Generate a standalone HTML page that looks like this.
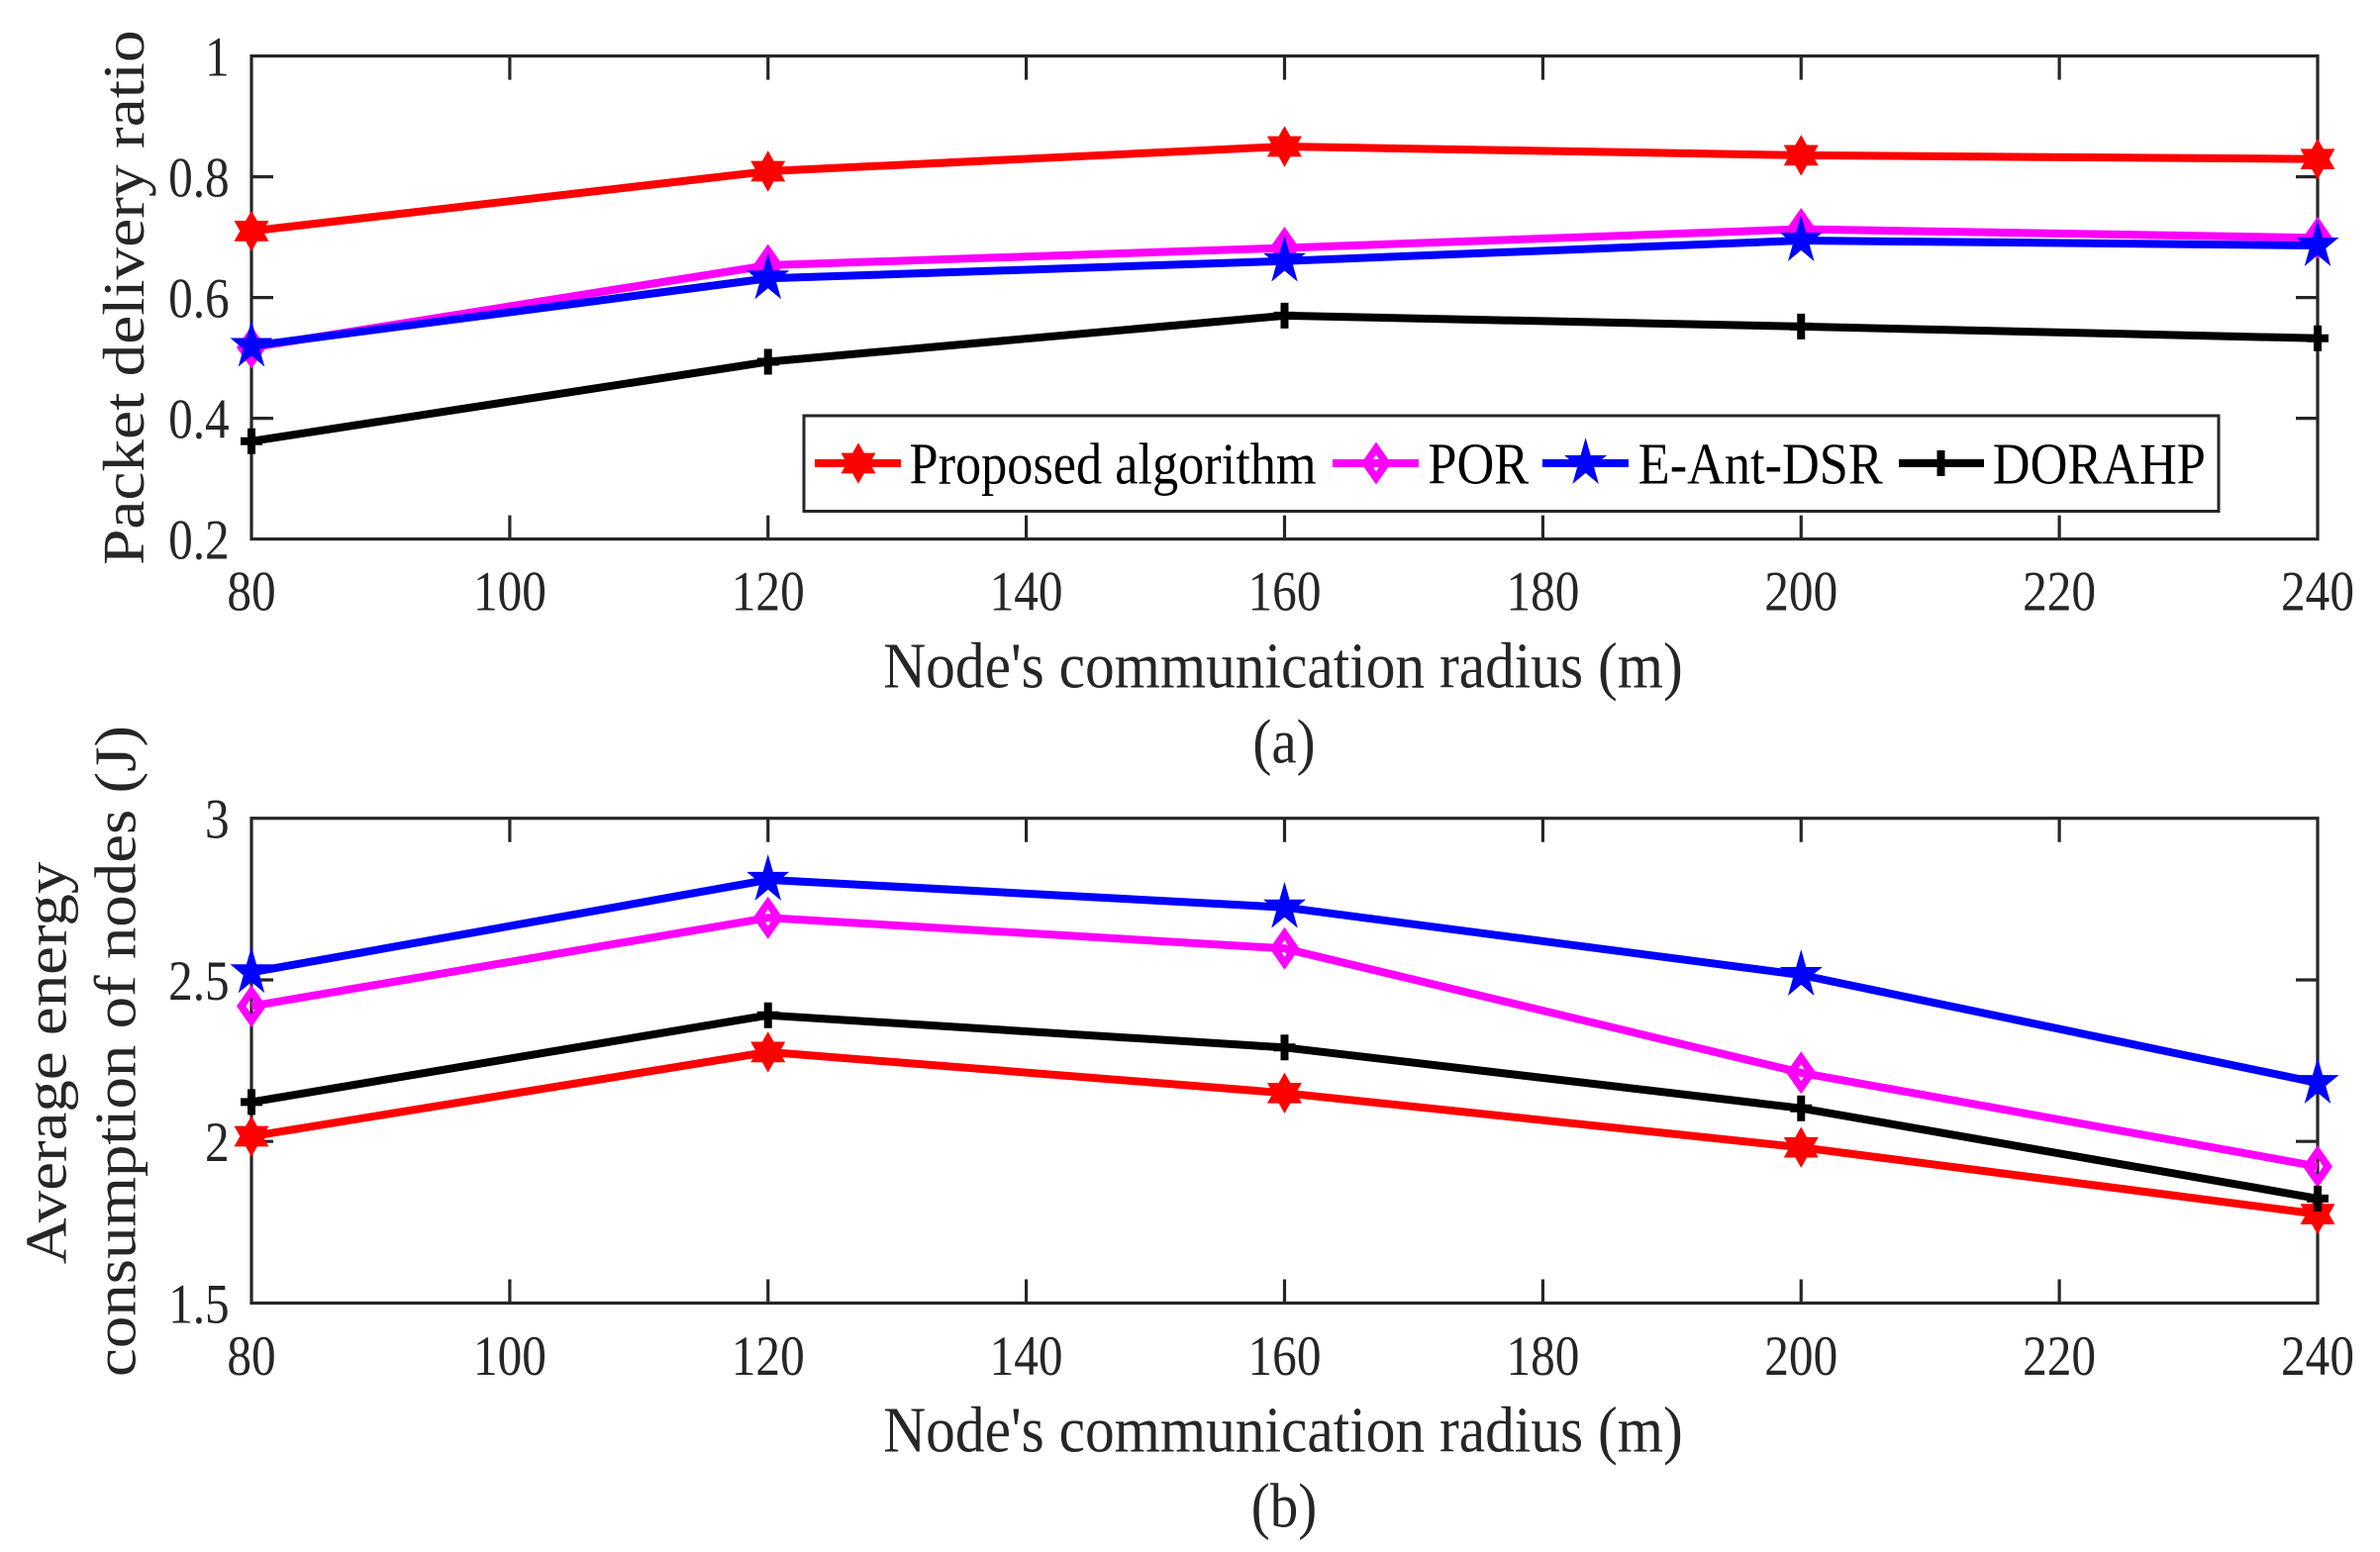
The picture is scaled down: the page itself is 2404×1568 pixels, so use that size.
<!DOCTYPE html>
<html>
<head>
<meta charset="utf-8">
<style>
html,body{margin:0;padding:0;background:#fff;}
svg{display:block;}
text{font-family:"Liberation Serif","Times New Roman",serif;fill:#262626;}
</style>
</head>
<body>
<svg width="2404" height="1568" viewBox="0 0 2404 1568" xmlns="http://www.w3.org/2000/svg">
<defs>
  <polygon id="hex" points="0,-20.7 5.83,-10.35 17.49,-10.35 11.66,0 17.49,10.35 5.83,10.35 0,20.7 -5.83,10.35 -17.49,10.35 -11.66,0 -17.49,-10.35 -5.83,-10.35" fill="#ff0000"/>
  <polygon id="pent" points="0,-25.9 5.07,-8 21.49,-8 8.21,3.06 13.28,20.95 0,9.89 -13.28,20.95 -8.21,3.06 -21.49,-8 -5.07,-8" fill="#0000ff"/>
  <path id="dia" d="M0,-21.5 L15,0 L0,21.5 L-15,0 Z M0,-8.5 L-5.5,0 L0,8.5 L5.5,0 Z" fill="#ff00ff" fill-rule="evenodd"/>
  <path id="plus" d="M-11,0 H11 M0,-13 V13" stroke="#000" stroke-width="8" fill="none"/>
</defs>

<!-- ================= TOP PLOT ================= -->
<g stroke="#262626" stroke-width="3.2" fill="none">
  <rect x="254" y="56.6" width="2087" height="488"/>
  <path d="M514.9,544.6v-24 M775.75,544.6v-24 M1036.6,544.6v-24 M1297.5,544.6v-24 M1558.4,544.6v-24 M1819.25,544.6v-24 M2080.1,544.6v-24
           M514.9,56.6v24 M775.75,56.6v24 M1036.6,56.6v24 M1297.5,56.6v24 M1558.4,56.6v24 M1819.25,56.6v24 M2080.1,56.6v24
           M254,178.6h22 M254,300.6h22 M254,422.6h22
           M2341,178.6h-22 M2341,300.6h-22 M2341,422.6h-22"/>
</g>

<!-- x tick labels top -->
<g font-size="49.3" text-anchor="middle">
  <text transform="translate(254,616.7) scale(1,1.15)">80</text>
  <text transform="translate(514.9,616.7) scale(1,1.15)">100</text>
  <text transform="translate(775.75,616.7) scale(1,1.15)">120</text>
  <text transform="translate(1036.6,616.7) scale(1,1.15)">140</text>
  <text transform="translate(1297.5,616.7) scale(1,1.15)">160</text>
  <text transform="translate(1558.4,616.7) scale(1,1.15)">180</text>
  <text transform="translate(1819.25,616.7) scale(1,1.15)">200</text>
  <text transform="translate(2080.1,616.7) scale(1,1.15)">220</text>
  <text transform="translate(2341,616.7) scale(1,1.15)">240</text>
</g>
<!-- y tick labels top -->
<g font-size="49.3" text-anchor="end">
  <text transform="translate(231.7,76.4) scale(1,1.15)">1</text>
  <text transform="translate(231.7,198.4) scale(1,1.15)">0.8</text>
  <text transform="translate(231.7,320.4) scale(1,1.15)">0.6</text>
  <text transform="translate(231.7,442.4) scale(1,1.15)">0.4</text>
  <text transform="translate(231.7,564.4) scale(1,1.15)">0.2</text>
</g>

<text font-size="59.4" text-anchor="middle" transform="translate(145,300.6) scale(1,1.1) rotate(-90)">Packet delivery ratio</text>
<text font-size="59.4" text-anchor="middle" transform="translate(1296,694.6) scale(1,1.11)">Node&#39;s communication radius (m)</text>
<text font-size="57" text-anchor="middle" transform="translate(1297,770.7) scale(1,1.11)">(a)</text>

<!-- series top -->
<g fill="none" stroke-width="8" stroke-linejoin="round">
  <polyline stroke="#ff0000" points="254,233.4 775.75,173 1297.5,148 1819.25,156.9 2341,160.7"/>
</g>
<use href="#hex" x="254" y="233.4"/><use href="#hex" x="775.75" y="173"/><use href="#hex" x="1297.5" y="148"/><use href="#hex" x="1819.25" y="156.9"/><use href="#hex" x="2341" y="160.7"/>
<polyline fill="none" stroke-width="8" stroke-linejoin="round" stroke="#ff00ff" points="254,351 775.75,268 1297.5,250.5 1819.25,231.5 2341,240.3"/>
<use href="#dia" x="254" y="351"/><use href="#dia" x="775.75" y="268"/><use href="#dia" x="1297.5" y="250.5"/><use href="#dia" x="1819.25" y="231.5"/><use href="#dia" x="2341" y="240.3"/>
<polyline fill="none" stroke-width="8" stroke-linejoin="round" stroke="#0000ff" points="254,349.5 775.75,281.3 1297.5,263.7 1819.25,243 2341,248"/>
<use href="#pent" x="254" y="349.5"/><use href="#pent" x="775.75" y="281.3"/><use href="#pent" x="1297.5" y="263.7"/><use href="#pent" x="1819.25" y="243"/><use href="#pent" x="2341" y="248"/>
<polyline fill="none" stroke-width="8" stroke-linejoin="round" stroke="#000000" points="254,445.8 775.75,365.5 1297.5,318.9 1819.25,329.9 2341,341.8"/>
<use href="#plus" x="254" y="445.8"/><use href="#plus" x="775.75" y="365.5"/><use href="#plus" x="1297.5" y="318.9"/><use href="#plus" x="1819.25" y="329.9"/><use href="#plus" x="2341" y="341.8"/>

<!-- legend -->
<rect x="812" y="420" width="1429" height="96.5" fill="#fff" stroke="#262626" stroke-width="3"/>
<g stroke-width="8" fill="none">
  <path d="M823,468H910" stroke="#ff0000"/>
  <path d="M1346,468H1433" stroke="#ff00ff"/>
  <path d="M1558,468H1645" stroke="#0000ff"/>
  <path d="M1918,468H2004" stroke="#000"/>
</g>
<use href="#hex" x="867" y="468"/>
<use href="#dia" x="1390" y="468"/>
<use href="#pent" x="1601.6" y="468"/>
<use href="#plus" x="1960.5" y="468"/>
<g font-size="52.3" style="fill:#000">
  <text transform="translate(918.5,488.3) scale(1,1.14)" style="fill:#000">Proposed algorithm</text>
  <text transform="translate(1442.4,488.3) scale(1,1.14)" style="fill:#000">POR</text>
  <text transform="translate(1654.8,488.3) scale(1,1.14)" style="fill:#000">E-Ant-DSR</text>
  <text transform="translate(2012.8,488.3) scale(1,1.14)" style="fill:#000">DORAHP</text>
</g>

<!-- ================= BOTTOM PLOT ================= -->
<g stroke="#262626" stroke-width="3.2" fill="none">
  <rect x="254" y="826.7" width="2087" height="489.8"/>
  <path d="M514.9,1316.5v-24 M775.75,1316.5v-24 M1036.6,1316.5v-24 M1297.5,1316.5v-24 M1558.4,1316.5v-24 M1819.25,1316.5v-24 M2080.1,1316.5v-24
           M514.9,826.7v24 M775.75,826.7v24 M1036.6,826.7v24 M1297.5,826.7v24 M1558.4,826.7v24 M1819.25,826.7v24 M2080.1,826.7v24
           M254,990h22 M254,1153.2h22
           M2341,990h-22 M2341,1153.2h-22"/>
</g>

<g font-size="49.3" text-anchor="middle">
  <text transform="translate(254,1389) scale(1,1.15)">80</text>
  <text transform="translate(514.9,1389) scale(1,1.15)">100</text>
  <text transform="translate(775.75,1389) scale(1,1.15)">120</text>
  <text transform="translate(1036.6,1389) scale(1,1.15)">140</text>
  <text transform="translate(1297.5,1389) scale(1,1.15)">160</text>
  <text transform="translate(1558.4,1389) scale(1,1.15)">180</text>
  <text transform="translate(1819.25,1389) scale(1,1.15)">200</text>
  <text transform="translate(2080.1,1389) scale(1,1.15)">220</text>
  <text transform="translate(2341,1389) scale(1,1.15)">240</text>
</g>
<g font-size="49.3" text-anchor="end">
  <text transform="translate(231.7,846.5) scale(1,1.15)">3</text>
  <text transform="translate(231.7,1009.8) scale(1,1.15)">2.5</text>
  <text transform="translate(231.7,1173) scale(1,1.15)">2</text>
  <text transform="translate(231.7,1336.3) scale(1,1.15)">1.5</text>
</g>

<text font-size="59" text-anchor="middle" transform="translate(66.7,1074) scale(1,1.1) rotate(-90)">Average energy</text>
<text font-size="59" text-anchor="middle" transform="translate(136.7,1062) scale(1,1.1) rotate(-90)">consumption of nodes (J)</text>
<text font-size="59.4" text-anchor="middle" transform="translate(1296,1466.6) scale(1,1.11)">Node&#39;s communication radius (m)</text>
<text font-size="57" text-anchor="middle" transform="translate(1297,1542.7) scale(1,1.11)">(b)</text>

<!-- series bottom -->
<polyline fill="none" stroke-width="8" stroke-linejoin="round" stroke="#ff0000" points="254,1148 775.75,1062.9 1297.5,1104.3 1819.25,1159.2 2341,1226.6"/>
<use href="#hex" x="254" y="1148"/><use href="#hex" x="775.75" y="1062.9"/><use href="#hex" x="1297.5" y="1104.3"/><use href="#hex" x="1819.25" y="1159.2"/><use href="#hex" x="2341" y="1226.6"/>
<polyline fill="none" stroke-width="8" stroke-linejoin="round" stroke="#ff00ff" points="254,1016.5 775.75,927.2 1297.5,958.3 1819.25,1083.8 2341,1178.5"/>
<use href="#dia" x="254" y="1016.5"/><use href="#dia" x="775.75" y="927.2"/><use href="#dia" x="1297.5" y="958.3"/><use href="#dia" x="1819.25" y="1083.8"/><use href="#dia" x="2341" y="1178.5"/>
<polyline fill="none" stroke-width="8" stroke-linejoin="round" stroke="#0000ff" points="254,982.3 775.75,888.9 1297.5,916.7 1819.25,985 2341,1094.1"/>
<use href="#pent" x="254" y="982.3"/><use href="#pent" x="775.75" y="888.9"/><use href="#pent" x="1297.5" y="916.7"/><use href="#pent" x="1819.25" y="985"/><use href="#pent" x="2341" y="1094.1"/>
<polyline fill="none" stroke-width="8" stroke-linejoin="round" stroke="#000000" points="254,1113.4 775.75,1025.7 1297.5,1058.3 1819.25,1119.7 2341,1210.9"/>
<use href="#plus" x="254" y="1113.4"/><use href="#plus" x="775.75" y="1025.7"/><use href="#plus" x="1297.5" y="1058.3"/><use href="#plus" x="1819.25" y="1119.7"/><use href="#plus" x="2341" y="1210.9"/>
</svg>
</body>
</html>
